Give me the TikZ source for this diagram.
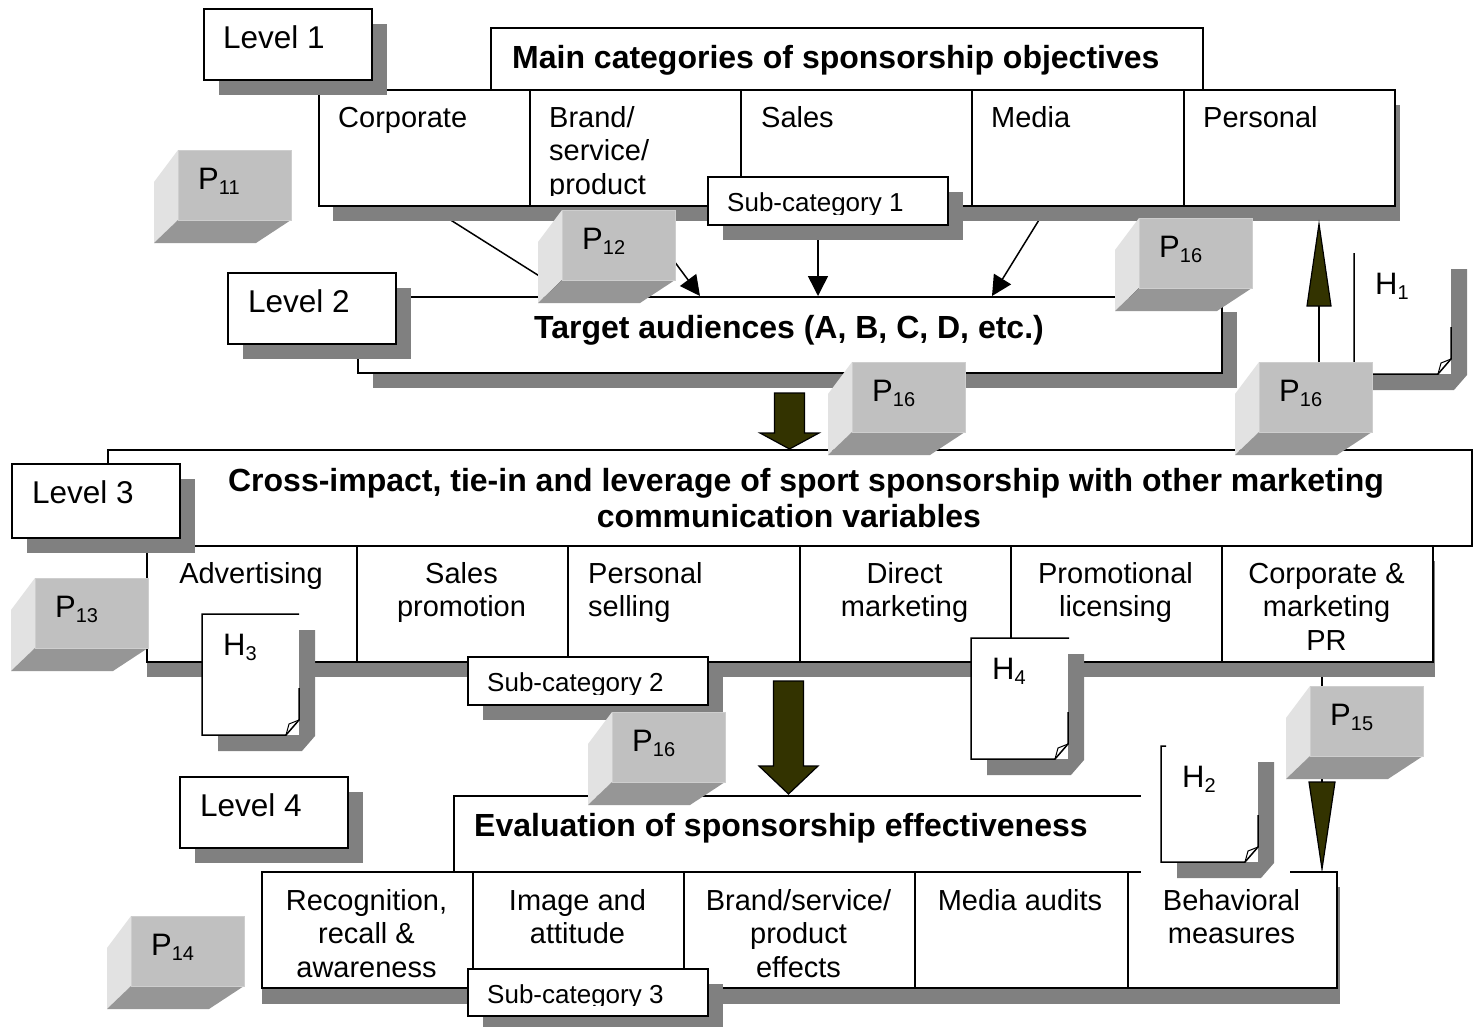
\documentclass[tikz,border=0pt]{standalone}
\usepackage{fontspec}
\setmainfont{Liberation Sans}
\usetikzlibrary{arrows.meta,calc}
\pgfdeclarelayer{bg}
\pgfdeclarelayer{wires}
\pgfsetlayers{bg,wires,main}

\definecolor{shadowgray}{RGB}{128,128,128}
\definecolor{cubefront}{RGB}{192,192,192}
\definecolor{cubeside}{RGB}{226,226,226}
\definecolor{cubebottom}{RGB}{150,150,150}
\definecolor{cubeedge}{RGB}{206,206,206}
\definecolor{arrowfill}{RGB}{51,51,0}

% fixed-height strut so every text node's top sits 28pt above its first baseline
\newcommand\st{\rule{0pt}{28pt}}
\newcommand\normalsz{\fontsize{29}{33.5}\selectfont}
\newcommand\levelsz{\fontsize{31.5}{36}\selectfont}
\newcommand\tagsz{\fontsize{31}{36}\selectfont}
\newcommand\boldsz{\fontsize{32}{36}\selectfont\bfseries}
\newcommand\subsz{\fontsize{26}{30}\selectfont}
\newcommand\idx[1]{\raisebox{-5pt}{\fontsize{20}{20}\selectfont #1}}

\tikzset{
  boxframe/.style={draw, line width=2pt, fill=white, inner sep=0pt, anchor=north west},
  dropshadow/.style={fill=shadowgray},
  celltext/.style={inner sep=0pt, font=\normalsz},
  leveltext/.style={inner sep=0pt, font=\levelsz, anchor=north west},
  tagtext/.style={inner sep=0pt, font=\tagsz, anchor=north west},
  headtext/.style={inner sep=0pt, font=\boldsz},
  subtext/.style={inner sep=0pt, font=\subsz},
  wire/.style={line width=1.5pt, -{Triangle[length=20pt,width=20pt]}},
  bline/.style={line width=1.5pt},
  blockarrow/.style={fill=arrowfill, draw=black, line width=1.2pt, line join=miter},
  cubeface/.style={fill=cubefront, draw=cubeedge, line width=1pt, inner sep=0pt,
    minimum width=113pt, minimum height=70pt, anchor=north west},
  notepage/.style={fill=white, inner sep=0pt, anchor=north west, minimum width=97pt},
  noteline/.style={line width=1.5pt, line join=miter},
}

% bevelled block: name, x, y (front face top-left), index
\newcommand\pcube[4]{%
  \fill[cubeside] (#2,#3) -- (#2,#3+70) -- (#2-24,#3+93) -- (#2-24,#3+32) -- cycle;
  \fill[cubebottom] (#2,#3+70) -- (#2+113,#3+70) -- (#2+78,#3+93) -- (#2-24,#3+93) -- cycle;
  \node[cubeface] (#1) at (#2,#3) {};
  \node[tagtext] (#1-t) at (#2+20,#3+11) {\st P\idx{#4}};
}

% note sheet with folded corner: name, x, y, height, index, length of drawn top edge
\newcommand\hnote[6]{%
  \fill[dropshadow] (#2+16,#3+16) -- (#2+113,#3+16) -- (#2+113,#3+#4+1) -- (#2+100,#3+#4+16)
    -- (#2+16,#3+#4+16) -- cycle;
  \node[notepage, minimum height=#4pt] (#1) at (#2,#3) {};
  \draw[noteline] (#2+#6,#3) -- (#2,#3) -- (#2,#3+#4) -- (#2+84,#3+#4) -- (#2+97,#3+#4-15)
    -- (#2+97,#3+#4-47);
  \draw[noteline, line width=1pt] (#2+84,#3+#4) -- (#2+87,#3+#4-11) -- (#2+97,#3+#4-15);
  \node[tagtext] (#1-t) at (#2+21,#3+13) {\st H\idx{#5}};
}

\begin{document}
\begin{tikzpicture}[x=1pt,y=-1pt]
\useasboundingbox (0,0) rectangle (1476,1026);
\begin{pgfonlayer}{bg}
  \fill[white] (0,0) rectangle (1476,1026);
\end{pgfonlayer}

% ---------- Level 1: objectives ----------
\fill[dropshadow] (333,105) rectangle (1400,221);
\node[boxframe, minimum width=211pt, minimum height=116pt] (r1a) at (318,89) {};
\node[boxframe, minimum width=211pt, minimum height=116pt] (r1b) at (529,89) {};
\node[boxframe, minimum width=231pt, minimum height=116pt] (r1c) at (740,89) {};
\node[boxframe, minimum width=212pt, minimum height=116pt] (r1d) at (971,89) {};
\node[boxframe, minimum width=211pt, minimum height=116pt] (r1e) at (1183,89) {};
\node[boxframe, minimum width=712pt, minimum height=62pt] (objectives) at (490,27) {};
\node[headtext, anchor=north west] (objectives-t) at (512,40.5) {\st Main categories of sponsorship objectives};
\node[celltext, anchor=north west] (r1a-t) at (338,99) {\st Corporate};
\begin{scope}
  \clip (529,89) rectangle (740,195);
  \node[celltext, anchor=north west, align=left] (r1b-t) at (549,99) {\st Brand/\\service/\\product};
\end{scope}
\node[celltext, anchor=north west] (r1c-t) at (761,99) {\st Sales};
\node[celltext, anchor=north west] (r1d-t) at (991,99) {\st Media};
\node[celltext, anchor=north west] (r1e-t) at (1203,99) {\st Personal};

\fill[dropshadow] (219,24) rectangle (387,95);
\node[boxframe, minimum width=168pt, minimum height=71pt] (lv1) at (203,8) {};
\node[leveltext] (lv1-t) at (223,20) {\st Level 1};

% ---------- Level 2: audiences ----------
\fill[dropshadow] (373,312) rectangle (1237,388);
\node[boxframe, minimum width=864pt, minimum height=76pt] (tgt) at (357,296) {};
\node[headtext, anchor=north] (tgt-t) at (789,310.5) {\st Target audiences (A, B, C, D, etc.)};

\fill[dropshadow] (243,288) rectangle (411,359);
\node[boxframe, minimum width=168pt, minimum height=71pt] (lv2) at (227,272) {};
\node[leveltext] (lv2-t) at (248,284) {\st Level 2};

\fill[dropshadow] (723,192) rectangle (963,240);
\node[boxframe, minimum width=240pt, minimum height=48pt] (sub1) at (707,176) {};
\begin{scope}
  \clip (707,176) rectangle (947,214);
  \node[subtext, anchor=north west] (sub1-t) at (727,183) {\st Sub-category 1};
\end{scope}

\begin{pgfonlayer}{wires}
  \draw[wire] ($(r1a.south west)+(112,0)$) -- ($(tgt.north west)+(214,0)$);
  \draw[wire] ($(r1b.south west)+(105,0)$) -- ($(tgt.north west)+(343,0)$);
  \draw[wire] ($(sub1.south west)+(111,0)$) -- ($(tgt.north west)+(461,0)$);
  \draw[wire] ($(r1d.south west)+(76,0)$) -- ($(tgt.north west)+(635,0)$);
  \draw[wire] ($(r1e.south west)+(75,0)$) -- ($(tgt.north west)+(773,0)$);
\end{pgfonlayer}

% ---------- Level 3: communication mix ----------
\node[boxframe, minimum width=1364pt, minimum height=96pt] (mix) at (107,449) {};
\node[headtext, anchor=north, align=center] (mix-t) at (806,463.5)
  {\st Cross-impact, tie-in and leverage of sport sponsorship with other marketing\\
   communication variables\hspace*{34pt}};

\coordinate (b1s) at ($(tgt.south)+(-0.5,19)$);
\coordinate (b1t) at ($(mix.north)+(-0.5,0)$);
\draw[blockarrow] ($(b1s)+(-15,0)$) -- ($(b1s)+(15,0)$) -- ($(b1t)+(15,-16)$) -- ($(b1t)+(29.5,-16)$)
  -- (b1t) -- ($(b1t)+(-29.5,-16)$) -- ($(b1t)+(-15,-16)$) -- cycle;

\fill[dropshadow] (147,561) rectangle (1435,677);
\node[boxframe, minimum width=210pt, minimum height=116pt] (r3a) at (146,545) {};
\node[boxframe, minimum width=211pt, minimum height=116pt] (r3b) at (356,545) {};
\node[boxframe, minimum width=232pt, minimum height=116pt] (r3c) at (567,545) {};
\node[boxframe, minimum width=211pt, minimum height=116pt] (r3d) at (799,545) {};
\node[boxframe, minimum width=211pt, minimum height=116pt] (r3e) at (1010,545) {};
\node[boxframe, minimum width=211pt, minimum height=116pt] (r3f) at (1221,545) {};
\node[celltext, anchor=north, align=center] (r3a-t) at (251,555) {\st Advertising};
\node[celltext, anchor=north, align=center] (r3b-t) at (461.5,555) {\st Sales\\promotion};
\node[celltext, anchor=north west, align=left] (r3c-t) at (588,555) {\st Personal\\selling};
\node[celltext, anchor=north, align=center] (r3d-t) at (904.5,555) {\st Direct\\marketing};
\node[celltext, anchor=north, align=center] (r3e-t) at (1115.5,555) {\st Promotional\\licensing};
\node[celltext, anchor=north, align=center] (r3f-t) at (1326.5,555) {\st Corporate \&\\marketing\\PR};

\fill[dropshadow] (27,479) rectangle (195,553);
\node[boxframe, minimum width=168pt, minimum height=74pt] (lv3) at (11,463) {};
\node[leveltext] (lv3-t) at (32,475) {\st Level 3};

\fill[dropshadow] (483,672) rectangle (723,720);
\node[boxframe, minimum width=240pt, minimum height=48pt] (sub2) at (467,656) {};
\begin{scope}
  \clip (467,656) rectangle (707,694);
  \node[subtext, anchor=north west] (sub2-t) at (487,663) {\st Sub-category 2};
\end{scope}

% ---------- Level 4: evaluation ----------
\node[boxframe, minimum width=827pt, minimum height=76pt] (eval) at (453,795) {};
\node[headtext, anchor=north west] (eval-t) at (474,808.5) {\st Evaluation of sponsorship effectiveness};

\coordinate (b2s) at ($(r3d.south west)+(-10.5,18)$);
\coordinate (b2t) at ($(eval.north west)+(335.5,-1)$);
\draw[blockarrow] ($(b2s)+(-15,0)$) -- ($(b2s)+(15,0)$) -- ($(b2t)+(15,-28)$) -- ($(b2t)+(29.5,-28)$)
  -- (b2t) -- ($(b2t)+(-29.5,-28)$) -- ($(b2t)+(-15,-28)$) -- cycle;

\fill[dropshadow] (262,887) rectangle (1340,1004);
\node[boxframe, minimum width=211pt, minimum height=116pt] (r4a) at (261,871) {};
\node[boxframe, minimum width=211pt, minimum height=116pt] (r4b) at (472,871) {};
\node[boxframe, minimum width=231pt, minimum height=116pt] (r4c) at (683,871) {};
\node[boxframe, minimum width=213pt, minimum height=116pt] (r4d) at (914,871) {};
\node[boxframe, minimum width=209pt, minimum height=116pt] (r4e) at (1127,871) {};
\node[celltext, anchor=north, align=center] (r4a-t) at (366.5,882) {\st Recognition,\\recall \&\\awareness};
\node[celltext, anchor=north, align=center] (r4b-t) at (577.5,882) {\st Image and\\attitude};
\node[celltext, anchor=north, align=center] (r4c-t) at (798.5,882) {\st Brand/service/\\product\\effects};
\node[celltext, anchor=north, align=center] (r4d-t) at (1020,882) {\st Media audits};
\node[celltext, anchor=north, align=center] (r4e-t) at (1231.5,882) {\st Behavioral\\measures};

\fill[dropshadow] (195,792) rectangle (363,863);
\node[boxframe, minimum width=168pt, minimum height=71pt] (lv4) at (179,776) {};
\node[leveltext] (lv4-t) at (200,788) {\st Level 4};

\fill[dropshadow] (483,984) rectangle (723,1031);
\node[boxframe, minimum width=240pt, minimum height=47pt] (sub3) at (467,968) {};
\begin{scope}
  \clip (467,968) rectangle (707,1005);
  \node[subtext, anchor=north west] (sub3-t) at (487,975) {\st Sub-category 3};
\end{scope}

% ---------- hypotheses ----------
\fill[white] (1141,735) rectangle (1290,874);
\hnote{h1}{1354}{253}{121}{1}{0}
\hnote{h2}{1161}{746}{116}{2}{5}
\hnote{h3}{202}{614}{121}{3}{97}
\hnote{h4}{971}{638}{121}{4}{98}

% ---------- propositions ----------
\pcube{p11}{178}{150}{11}
\pcube{p12}{562}{210}{12}
\pcube{p16a}{1139}{218}{16}
\pcube{p16b}{852}{362}{16}
\pcube{p16c}{1259}{362}{16}
\pcube{p13}{35}{578}{13}
\pcube{p16d}{612}{712}{16}
\pcube{p15}{1310}{686}{15}
\pcube{p14}{131}{916}{14}

% feedback arrows on the right
\coordinate (upfoot) at ($(p16c.north west)+(60,0)$);
\coordinate (uptip) at ($(r1e.south west)+(136,17)$);
\coordinate (upbase) at ($(uptip)+(0,82)$);
\draw[bline] (upfoot) -- (upbase);
\draw[blockarrow] ($(upbase)+(-12,0)$) -- ($(upbase)+(12,0)$) -- (uptip) -- cycle;

\coordinate (dntip) at ($(r4e.north west)+(195,-2)$);
\coordinate (dnbase) at ($(dntip)+(0,-87)$);
\begin{pgfonlayer}{wires}
  \draw[bline] ($(r3f.south west)+(101,0)$) -- (dnbase);
\end{pgfonlayer}
\draw[blockarrow] ($(dnbase)+(-13,0)$) -- ($(dnbase)+(13,0)$) -- (dntip) -- cycle;
\end{tikzpicture}
\end{document}
